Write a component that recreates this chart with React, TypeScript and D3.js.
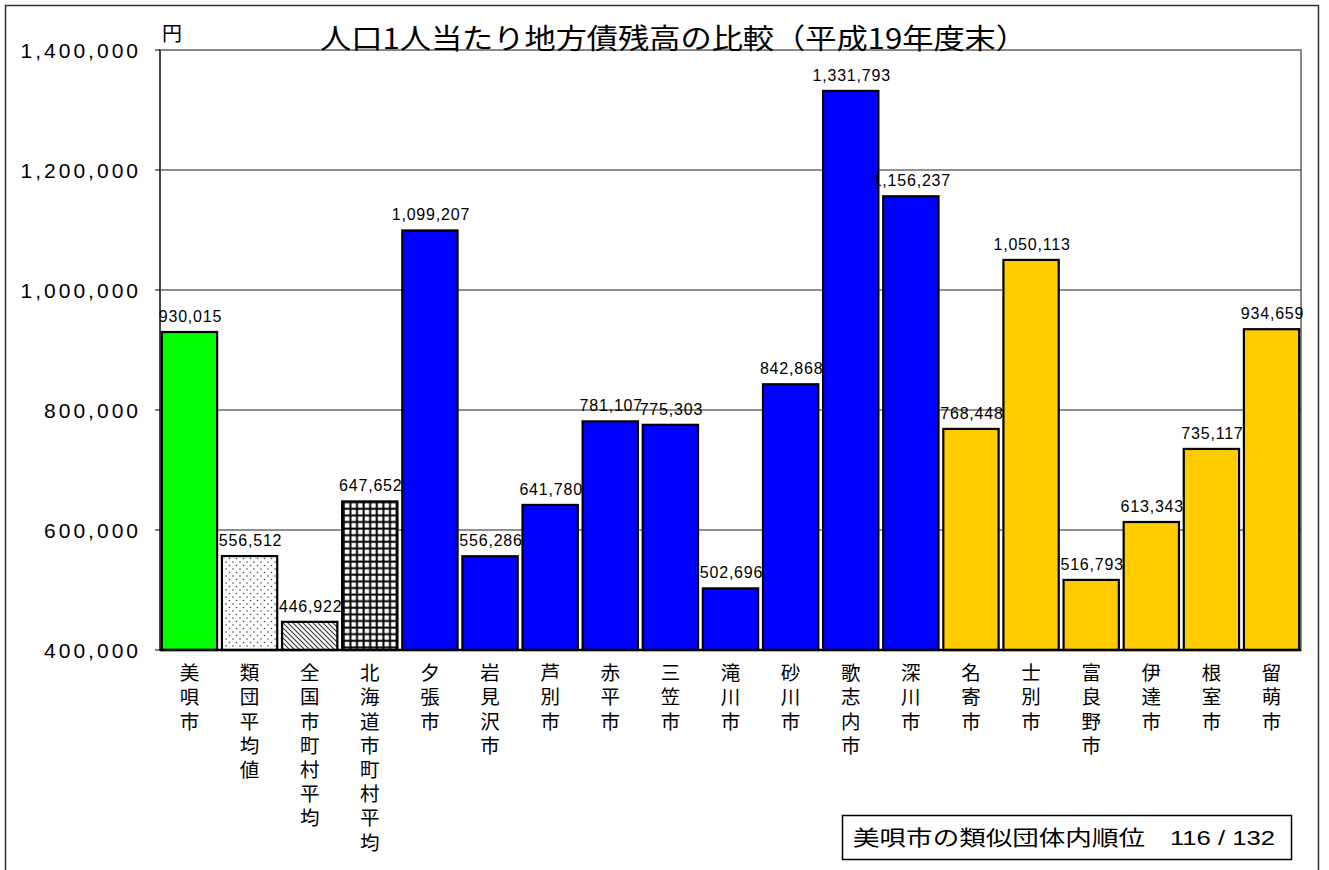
import React from "react";
import * as d3 from "d3";

const categories = [
  "美唄市", "類団平均値", "全国市町村平均", "北海道市町村平均", "夕張市", "岩見沢市",
  "芦別市", "赤平市", "三笠市", "滝川市", "砂川市", "歌志内市", "深川市",
  "名寄市", "士別市", "富良野市", "伊達市", "根室市", "留萌市",
];
const values = [
  930015, 556512, 446922, 647652, 1099207, 556286, 641780, 781107, 775303,
  502696, 842868, 1331793, 1156237, 768448, 1050113, 516793, 613343, 735117, 934659,
];
// fill type per bar
const fills = [
  "green", "dots", "hatch", "grid", "blue", "blue", "blue", "blue", "blue",
  "blue", "blue", "blue", "blue", "yellow", "yellow", "yellow", "yellow", "yellow", "yellow",
];
const yTicks = [400000, 600000, 800000, 1000000, 1200000, 1400000];

const W = 1329;
const H = 870;
const plot = { left: 160, right: 1301, top: 50, bottom: 650 };

const fillColor: Record<string, string> = {
  green: "#00ff00",
  blue: "#0000ff",
  yellow: "#ffcc00",
  dots: "url(#dots)",
  hatch: "url(#hatch)",
  grid: "url(#grid)",
};

const numFont = "'Liberation Sans', Arial, sans-serif";
const jpFont = "'Noto Sans CJK JP', sans-serif";

export default function App() {
  const x = d3
    .scaleBand()
    .domain(categories)
    .range([plot.left, plot.right])
    .paddingInner(0.08)
    .paddingOuter(0.03);

  const y = d3.scaleLinear().domain([400000, 1400000]).range([plot.bottom, plot.top]);
  const fmt = d3.format(",");

  return (
    <div style={{ position: "absolute", left: 0, top: 0 }}>
      <svg width={W} height={H} style={{ display: "block", background: "#fff" }}>
        <defs>
          <pattern id="dots" width="7" height="7" patternUnits="userSpaceOnUse">
            <rect width="7" height="7" fill="#fff" />
            <circle cx="2" cy="2" r="0.8" fill="#444" />
            <circle cx="5.5" cy="5.5" r="0.8" fill="#444" />
          </pattern>
          <pattern id="hatch" width="5" height="5" patternUnits="userSpaceOnUse">
            <rect width="5" height="5" fill="#fff" />
            <path d="M-1,-1 L6,6 M-1,4 L1,6 M4,-1 L6,1" stroke="#333" strokeWidth="1.1" />
          </pattern>
          <pattern id="grid" width="6.6" height="6.6" patternUnits="userSpaceOnUse">
            <rect width="6.6" height="6.6" fill="#000" />
            <rect x="1.6" y="1.6" width="4.6" height="4.6" fill="#fff" />
          </pattern>
        </defs>

        {/* outer frame */}
        <rect x={5.5} y={5.5} width={1313} height={900} fill="none" stroke="#333" strokeWidth={1.5} />

        {/* plot border */}
        <rect
          x={plot.left}
          y={plot.top}
          width={plot.right - plot.left}
          height={plot.bottom - plot.top}
          fill="none"
          stroke="#888"
          strokeWidth={2}
        />

        {/* gridlines */}
        {yTicks.slice(1, -1).map((t) => (
          <line key={t} x1={plot.left} x2={plot.right} y1={y(t)} y2={y(t)} stroke="#222" strokeWidth={1} />
        ))}

        {/* y axis */}
        <line x1={plot.left} x2={plot.left} y1={plot.top} y2={plot.bottom} stroke="#444" strokeWidth={2} />
        {yTicks.map((t) => (
          <g key={t}>
            <line x1={plot.left - 5} x2={plot.left} y1={y(t)} y2={y(t)} stroke="#000" />
            <text
              x={141}
              y={y(t)}
              dy="0.36em"
              textAnchor="end"
              fontFamily={numFont}
              fontSize={21}
              letterSpacing={3}
              fill="#000"
            >
              {fmt(t)}
            </text>
          </g>
        ))}

        {/* bars */}
        {categories.map((c, i) => (
          <rect
            key={c}
            x={x(c)!}
            y={y(values[i])}
            width={x.bandwidth()}
            height={plot.bottom - y(values[i])}
            fill={fillColor[fills[i]]}
            stroke="#000"
            strokeWidth={2.2}
          />
        ))}

        {/* x axis line */}
        <line x1={plot.left} x2={plot.right} y1={plot.bottom} y2={plot.bottom} stroke="#000" strokeWidth={2.5} />

        {/* value labels */}
        {categories.map((c, i) => (
          <text
            key={c}
            x={x(c)! + x.bandwidth() / 2 + 1}
            y={y(values[i]) - 10}
            textAnchor="middle"
            fontFamily={numFont}
            fontSize={16}
            letterSpacing={0.8}
            fill="#000"
          >
            {fmt(values[i])}
          </text>
        ))}

        {/* category labels, vertical */}
        {categories.map((c) => (
          <text
            key={c}
            x={x(c)! + x.bandwidth() / 2}
            y={663}
            fontFamily={jpFont}
            fontSize={19.5}
            letterSpacing={4.7}
            fill="#000"
            style={{ writingMode: "vertical-rl", textOrientation: "upright" } as React.CSSProperties}
          >
            {c}
          </text>
        ))}

        {/* unit */}
        <text x={162} y={41} fontFamily={jpFont} fontSize={20} fill="#000">
          円
        </text>

        {/* title */}
        <text
          x={320}
          y={49}
          fontFamily={jpFont}
          fontSize={28}
          textLength={707}
          lengthAdjust="spacingAndGlyphs"
          fill="#000"
        >
          人口1人当たり地方債残高の比較（平成19年度末）
        </text>

        {/* rank box */}
        <rect x={842.5} y={815.5} width={449} height={44} fill="#fff" stroke="#000" strokeWidth={1.5} />
        <text
          x={853}
          y={845}
          fontFamily={jpFont}
          fontSize={21}
          textLength={292}
          lengthAdjust="spacingAndGlyphs"
          fill="#000"
        >
          美唄市の類似団体内順位
        </text>
        <text
          x={1170}
          y={845}
          fontFamily={numFont}
          fontSize={21}
          textLength={105}
          lengthAdjust="spacingAndGlyphs"
          fill="#000"
        >
          116 / 132
        </text>
      </svg>
    </div>
  );
}
